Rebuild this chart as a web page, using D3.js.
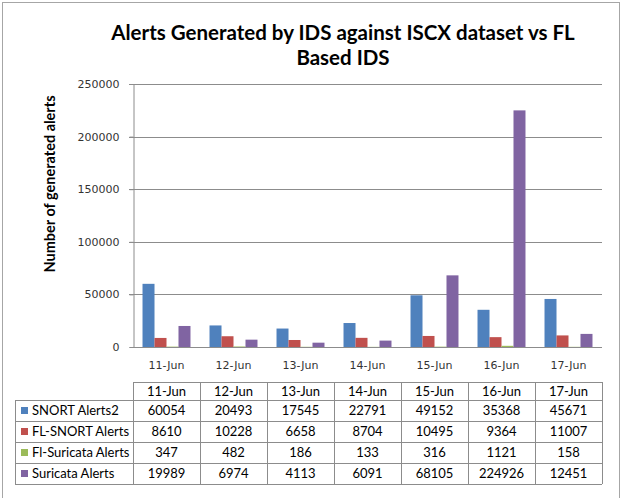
<!DOCTYPE html>
<html>
<head>
<meta charset="utf-8">
<script src="https://cdn.jsdelivr.net/npm/d3@7"></script>
<style>
  body { margin: 0; background: #fff; }
  svg { display: block; }
</style>
</head>
<body>
<script>
// chart data
var days = ['11-Jun', '12-Jun', '13-Jun', '14-Jun', '15-Jun', '16-Jun', '17-Jun'];
var seriesNames = ['SNORT Alerts2', 'FL-SNORT Alerts', 'Fl-Suricata Alerts', 'Suricata Alerts'];
var snortAlerts = [60054, 20493, 17545, 22791, 49152, 35368, 45671];
var flSnortAlerts = [8610, 10228, 6658, 8704, 10495, 9364, 11007];
var flSuricataAlerts = [347, 482, 186, 133, 316, 1121, 158];
var suricataAlerts = [19989, 6974, 4113, 6091, 68105, 224926, 12451];
var yTicks = [0, 50000, 100000, 150000, 200000, 250000];
var colors = ['#4F81BD', '#C0504D', '#9BBB59', '#8064A2'];

var allValues = [snortAlerts, flSnortAlerts, flSuricataAlerts, suricataAlerts];

var width = 623,
    height = 498;

var plot = { left: 133, right: 602, top: 84, bottom: 347 };

var svg = d3.select('body').append('svg')
    .attr('width', width)
    .attr('height', height);

// outer frame
svg.append('rect')
    .attr('x', 2.5).attr('y', 2.5)
    .attr('width', 617).attr('height', 500)
    .attr('fill', 'none')
    .attr('stroke', '#a6a6a6');

// title
svg.append('text')
    .attr('x', 343).attr('y', 40)
    .attr('text-anchor', 'middle')
    .attr('font-family', 'Lato')
    .attr('font-weight', 'bold')
    .attr('font-size', 20.5)
    .attr('fill', '#000')
    .text('Alerts Generated by IDS against ISCX dataset vs FL');
svg.append('text')
    .attr('x', 343).attr('y', 65)
    .attr('text-anchor', 'middle')
    .attr('font-family', 'Lato')
    .attr('font-weight', 'bold')
    .attr('font-size', 20.5)
    .attr('fill', '#000')
    .text('Based IDS');

var x0 = d3.scaleBand()
    .domain(days)
    .range([plot.left, plot.right])
    .paddingInner(0.284)
    .paddingOuter(0.142);

var x1 = d3.scaleBand()
    .domain(seriesNames)
    .range([0, x0.bandwidth()]);

var y = d3.scaleLinear()
    .domain([0, 250000])
    .range([plot.bottom, plot.top]);

// gridlines
svg.append('g')
    .selectAll('line')
    .data(yTicks.slice(1))
    .enter().append('line')
    .attr('x1', plot.left - 4).attr('x2', plot.right)
    .attr('y1', function(d) { return Math.round(y(d)) + 0.5; })
    .attr('y2', function(d) { return Math.round(y(d)) + 0.5; })
    .attr('stroke', '#8c8c8c');

// y axis
var yAxis = svg.append('g')
    .attr('transform', 'translate(' + (plot.left + 0.5) + ',0)')
    .call(d3.axisLeft(y).tickValues(yTicks).tickSize(4).tickPadding(10).tickFormat(d3.format('d')));
yAxis.select('.domain').attr('stroke', '#8c8c8c');
yAxis.selectAll('.tick line').attr('stroke', '#8c8c8c');
yAxis.selectAll('.tick text')
    .attr('font-family', 'DejaVu Sans')
    .attr('font-size', 11)
    .attr('fill', '#333');

// bars
var groups = svg.append('g')
    .selectAll('g')
    .data(days)
    .enter().append('g')
    .attr('transform', function(d) { return 'translate(' + x0(d) + ',0)'; });

groups.selectAll('rect')
    .data(function(d, i) {
        return seriesNames.map(function(s, j) { return { name: s, value: allValues[j][i], k: j }; });
    })
    .enter().append('rect')
    .attr('x', function(d) { return x1(d.name); })
    .attr('y', function(d) { return y(d.value); })
    .attr('width', x1.bandwidth())
    .attr('height', function(d) { return plot.bottom - y(d.value); })
    .attr('fill', function(d) { return colors[d.k]; });

// x axis line
svg.append('line')
    .attr('x1', plot.left).attr('x2', plot.right)
    .attr('y1', plot.bottom + 0.5).attr('y2', plot.bottom + 0.5)
    .attr('stroke', '#8c8c8c');

// category labels
svg.append('g')
    .selectAll('text')
    .data(days)
    .enter().append('text')
    .attr('x', function(d) { return x0(d) + x0.bandwidth() / 2; })
    .attr('y', 369)
    .attr('text-anchor', 'middle')
    .attr('font-family', 'DejaVu Sans')
    .attr('font-size', 11)
    .attr('fill', '#333')
    .text(function(d) { return d; });

// y axis title
svg.append('text')
    .attr('transform', 'translate(55,184) rotate(-90)')
    .attr('text-anchor', 'middle')
    .attr('font-family', 'Lato')
    .attr('font-weight', 'bold')
    .attr('font-size', 14.5)
    .attr('fill', '#000')
    .text('Number of generated alerts');

// data table
var tableLeft = 15,
    headerTop = 382,
    headerH = 18,
    rowH = 21;
var step = x0.step();
var colLeft = function(i) { return plot.left + i * step; };
var tableBottom = headerTop + headerH + rowH * seriesNames.length;

var table = svg.append('g')
    .attr('font-family', 'Lato')
    .attr('font-size', 13)
    .attr('fill', '#000');

// horizontal rules
var hLines = [headerTop, headerTop + headerH];
seriesNames.forEach(function(s, j) { hLines.push(headerTop + headerH + rowH * (j + 1)); });
table.selectAll('line.h')
    .data(hLines)
    .enter().append('line')
    .attr('x1', function(d, i) { return i === 0 ? plot.left : tableLeft; })
    .attr('x2', plot.right)
    .attr('y1', function(d) { return d + 0.5; })
    .attr('y2', function(d) { return d + 0.5; })
    .attr('stroke', '#8c8c8c');

// vertical rules
var vLines = [tableLeft];
days.forEach(function(d, i) { vLines.push(colLeft(i)); });
vLines.push(plot.right);
table.selectAll('line.v')
    .data(vLines)
    .enter().append('line')
    .attr('x1', function(d) { return d + 0.5; })
    .attr('x2', function(d) { return d + 0.5; })
    .attr('y1', function(d, i) { return i === 0 ? headerTop + headerH : headerTop; })
    .attr('y2', tableBottom)
    .attr('stroke', '#8c8c8c');

// header cells
table.selectAll('text.head')
    .data(days)
    .enter().append('text')
    .attr('x', function(d, i) { return colLeft(i) + step / 2; })
    .attr('y', headerTop + 14)
    .attr('text-anchor', 'middle')
    .text(function(d) { return d; });

// legend cells
seriesNames.forEach(function(s, j) {
    var rowTop = headerTop + headerH + rowH * j;
    table.append('rect')
        .attr('x', 21).attr('y', rowTop + 7)
        .attr('width', 7).attr('height', 7)
        .attr('fill', colors[j]);
    table.append('text')
        .attr('x', 32).attr('y', rowTop + 15)
        .text(s);
    table.selectAll(null)
        .data(allValues[j])
        .enter().append('text')
        .attr('x', function(d, i) { return colLeft(i) + step / 2; })
        .attr('y', rowTop + 15)
        .attr('text-anchor', 'middle')
        .text(function(d) { return d; });
});
</script>
</body>
</html>
